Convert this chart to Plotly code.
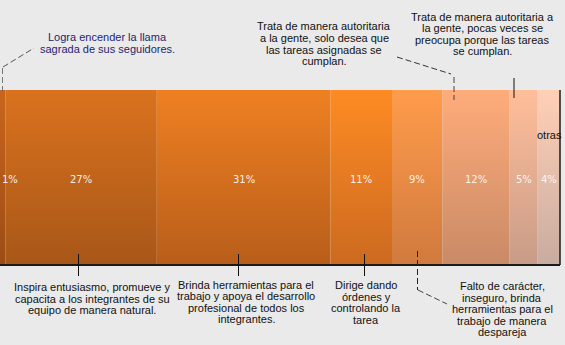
import numpy as np
import plotly.graph_objects as go

# ---------------- data ----------------
values = [1, 27, 31, 11, 9, 12, 5, 4]
pct_labels = ["1%", "27%", "31%", "11%", "9%", "12%", "5%", "4%"]
top_colors = ["#C9661C", "#DA721E", "#EF8022", "#FE8B24", "#FF9C4C", "#FFAC7A", "#FFBE9A", "#FFD0B6"]
bottom_colors = ["#9C4C14", "#A85718", "#B85E1A", "#CC6A20", "#D07A3E", "#C98A66", "#C89C88", "#C8ACA0"]

note_top1 = ["Logra encender la llama", "sagrada de sus seguidores."]
note_top2 = ["Trata de manera autoritaria", "a la gente, solo desea que", "las tareas asignadas se", "cumplan."]
note_top3 = ["Trata de manera autoritaria a", "la gente, pocas veces se", "preocupa porque las tareas", "se cumplan."]
note_bot1 = ["Inspira entusiasmo, promueve y", "capacita a los integrantes de su", "equipo de manera natural."]
note_bot2 = ["Brinda herramientas para el", "trabajo y apoya el desarrollo", "profesional de todos los", "integrantes."]
note_bot3 = ["Dirige dando", "órdenes y", "controlando la", "tarea"]
note_bot4 = ["Falto de carácter,", "inseguro, brinda", "herramientas para el", "trabajo de manera", "despareja"]
other_label = "otras"

# ---------------- layout helpers ----------------
W, H = 565, 345
BAR_TOP, BAR_BOT = 90, 265
BAR_RIGHT = 560
BG = "#EAEAEA"
FONT = "Arial, Liberation Sans, sans-serif"
DASH = "6px,3px"


def px(x):
    return x / W


def py(y):
    return 1 - y / H


fig = go.Figure()
cum = np.concatenate([[0], np.cumsum(values)])
total = cum[-1]

for i, v in enumerate(values):
    x0, x1 = cum[i], cum[i + 1]
    fig.add_trace(go.Scatter(
        x=[x0, x1, x1, x0, x0], y=[0, 0, 1, 1, 0],
        mode="lines", fill="toself", line=dict(width=0),
        fillcolor=top_colors[i],
        fillgradient=dict(type="vertical",
                          colorscale=[[0, bottom_colors[i]], [1, top_colors[i]]]),
        hoverinfo="skip", showlegend=False))

annotations = []
# percent labels
for i, v in enumerate(values):
    c = (cum[i] + cum[i + 1]) / 2
    first = i == 0
    annotations.append(dict(
        x=0 if first else c, y=0.49, xref="x", yref="y",
        text=pct_labels[i], showarrow=False,
        xanchor="left" if first else "center", yanchor="middle",
        font=dict(family="DejaVu Sans, Verdana, sans-serif", size=10,
                  color="rgba(255,250,245,0.95)")))


def add_note(lines, cx, ys, color="#111111"):
    for line, y in zip(lines, ys):
        annotations.append(dict(
            x=px(cx), y=py(y), xref="paper", yref="paper", text=line,
            showarrow=False, xanchor="center", yanchor="middle",
            font=dict(family=FONT, size=11, color=color)))


add_note(note_top1, 107, [37, 48.5], color="#1E1E72")
add_note(note_top2, 324, [26, 38, 49.5, 61])
add_note(note_top3, 482, [17, 28.5, 40, 51.5])
add_note(note_bot1, 92, [287, 298.5, 310])
add_note(note_bot2, 246, [284.5, 296, 307.5, 319])
add_note(note_bot3, 366, [285, 296.5, 308, 319.5])
add_note(note_bot4, 502, [286, 297.5, 309, 320.5, 332])
add_note([other_label], 549, [135])

shapes = []


def seg(x0, y0, x1, y1, color="#222222", dash="solid", width=1):
    shapes.append(dict(type="line", xref="paper", yref="paper",
                       x0=px(x0), y0=py(y0), x1=px(x1), y1=py(y1),
                       line=dict(color=color, width=width, dash=dash)))


# bar shadow border (bottom and right), in data coordinates
shapes.append(dict(type="line", xref="x", yref="y", x0=0, x1=total, y0=0, y1=0,
                   line=dict(color="#1A1A1A", width=2)))
shapes.append(dict(type="line", xref="x", yref="y", x0=total, x1=total, y0=0, y1=1,
                   line=dict(color="#1A1A1A", width=1.5)))

# leader lines
seg(2.5, 92, 2.5, 68, color="#777777", dash=DASH)
seg(3, 67, 34, 48, color="#555555", dash=DASH)
seg(397, 57, 451, 74, color="#333333", dash=DASH)
seg(454, 77, 454, 100, color="#444444", dash=DASH)
seg(514, 78, 514, 98, color="#111111")
seg(78.5, 254, 78.5, 276, color="#111111")
seg(238.5, 254, 238.5, 276, color="#111111")
seg(364.5, 254, 364.5, 276, color="#111111")
seg(417.5, 251, 417.5, 290, color="#222222", dash=DASH)
seg(418, 290, 447, 304, color="#444444", dash=DASH)

fig.update_layout(
    width=W, height=H,
    margin=dict(l=0, r=0, t=0, b=0),
    paper_bgcolor=BG, plot_bgcolor=BG,
    showlegend=False,
    xaxis=dict(range=[0, total * W / BAR_RIGHT], visible=False, fixedrange=True),
    yaxis=dict(range=[-(H - BAR_BOT) / (BAR_BOT - BAR_TOP), 1 + BAR_TOP / (BAR_BOT - BAR_TOP)],
               visible=False, fixedrange=True),
    annotations=annotations,
    shapes=shapes,
)

fig.write_html("out.html")
